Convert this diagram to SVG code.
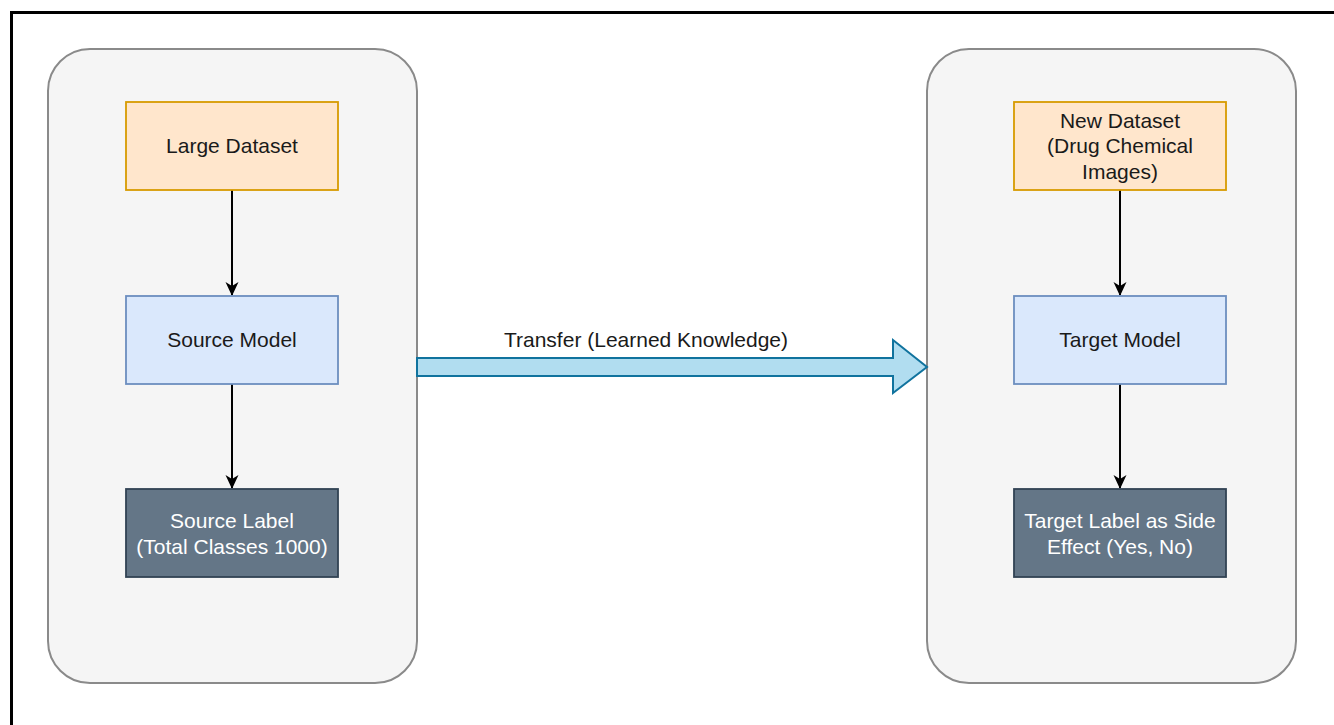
<svg xmlns="http://www.w3.org/2000/svg" width="1334" height="725" viewBox="0 0 1334 725">
  <style>
    .frame { fill: none; stroke: #000000; stroke-width: 3; }
    .panel { fill: #f5f5f5; stroke: #8a8a8a; stroke-width: 2; }
    .data { fill: #ffe6cc; stroke: #d79b00; stroke-width: 1.8; }
    .model { fill: #dae8fc; stroke: #6c8ebf; stroke-width: 1.8; }
    .label { fill: #647687; stroke: #314354; stroke-width: 1.8; }
    text { font-family: "Liberation Sans", Arial, sans-serif; font-size: 21px; text-anchor: middle; dominant-baseline: central; }
    .dark { fill: #1a1a1a; }
    .light { fill: #ffffff; }
    .edge { fill: none; stroke: #000000; stroke-width: 2; }
    .transfer { fill: #b1ddf0; stroke: #10739e; stroke-width: 2; stroke-linejoin: miter; }
  </style>
  <defs>
    <marker id="head" markerWidth="14" markerHeight="14" refX="13" refY="7" orient="auto" markerUnits="userSpaceOnUse" viewBox="0 0 14 14">
      <path d="M0,0.5 L14,7 L0,13.5 L4,7 Z" fill="#000000"/>
    </marker>
  </defs>

  <rect width="1334" height="725" fill="#ffffff"/>
  <rect class="frame" x="11.5" y="12.5" width="1340" height="730"/>

  <!-- source side panel -->
  <g id="source-panel">
    <rect class="panel" x="48" y="49" width="369" height="634" rx="42" ry="42"/>
  </g>
  <!-- target side panel -->
  <g id="target-panel">
    <rect class="panel" x="927" y="49" width="369" height="634" rx="42" ry="42"/>
  </g>

  <g id="connectors">
    <line class="edge" x1="232" y1="190" x2="232" y2="295" marker-end="url(#head)"/>
    <line class="edge" x1="232" y1="384" x2="232" y2="488" marker-end="url(#head)"/>
    <line class="edge" x1="1120" y1="190" x2="1120" y2="295" marker-end="url(#head)"/>
    <line class="edge" x1="1120" y1="384" x2="1120" y2="488" marker-end="url(#head)"/>
    <g id="transfer">
      <path class="transfer" d="M417,358 L893,358 L893,340 L927,367 L893,393 L893,376 L417,376 Z"/>
      <text class="dark" x="646" y="339">Transfer (Learned Knowledge)</text>
    </g>
  </g>

  <g id="large-dataset">
    <rect class="data" x="126" y="102" width="212" height="88"/>
    <text class="dark" x="232" y="145">Large Dataset</text>
  </g>
  <g id="source-model">
    <rect class="model" x="126" y="296" width="212" height="88"/>
    <text class="dark" x="232" y="339">Source Model</text>
  </g>
  <g id="source-label">
    <rect class="label" x="126" y="489" width="212" height="88"/>
    <text class="light" x="232" y="520">Source Label</text>
    <text class="light" x="232" y="546">(Total Classes 1000)</text>
  </g>

  <g id="new-dataset">
    <rect class="data" x="1014" y="102" width="212" height="88"/>
    <text class="dark" x="1120" y="120">New Dataset</text>
    <text class="dark" x="1120" y="145.5">(Drug Chemical</text>
    <text class="dark" x="1120" y="171">Images)</text>
  </g>
  <g id="target-model">
    <rect class="model" x="1014" y="296" width="212" height="88"/>
    <text class="dark" x="1120" y="339">Target Model</text>
  </g>
  <g id="target-label">
    <rect class="label" x="1014" y="489" width="212" height="88"/>
    <text class="light" x="1120" y="520">Target Label as Side</text>
    <text class="light" x="1120" y="546">Effect (Yes, No)</text>
  </g>
</svg>
